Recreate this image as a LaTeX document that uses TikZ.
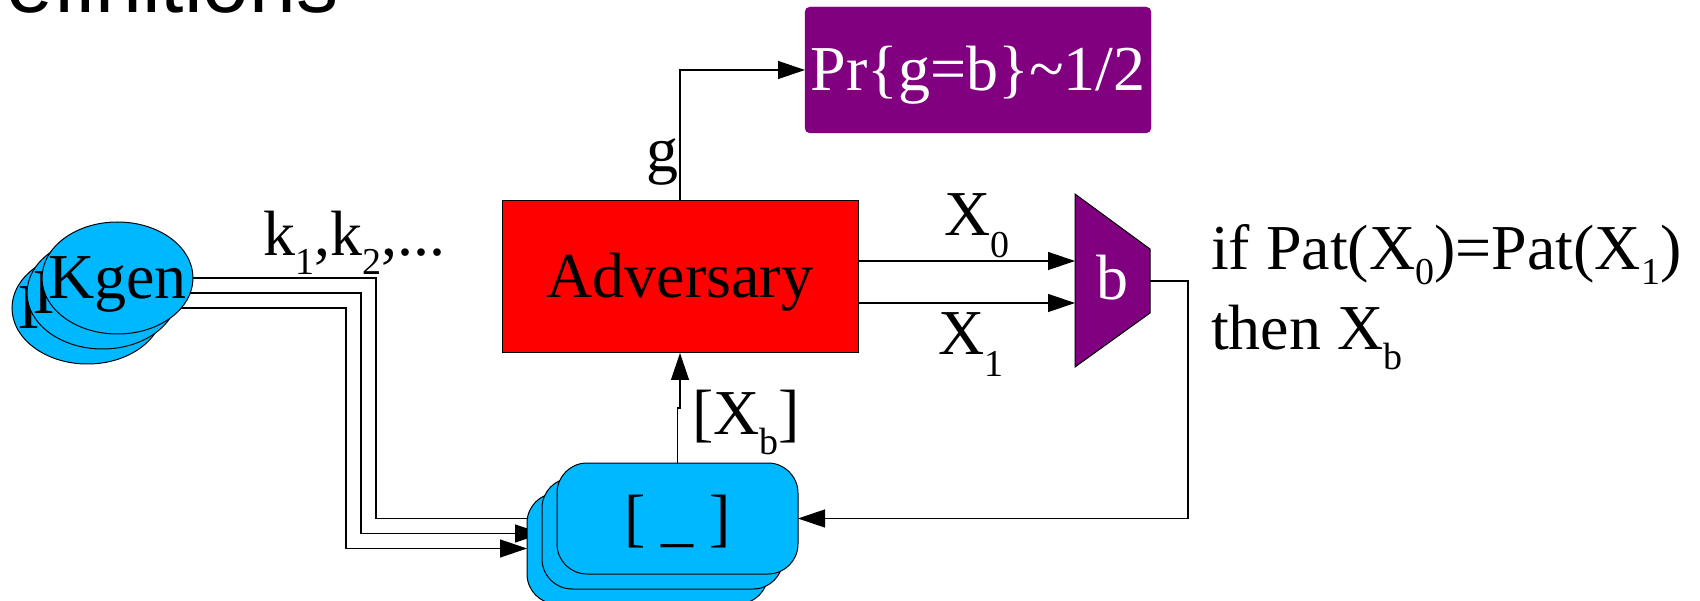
\documentclass[tikz,border=0pt]{standalone}
\usepackage{fontspec}
\usepackage{graphicx}
\setmainfont{Liberation Serif}
\newfontfamily\titlefont{Liberation Sans}
\usetikzlibrary{arrows.meta,calc,shapes.geometric}
\pgfdeclarelayer{bg}
\pgfsetlayers{bg,main}
\definecolor{skyb}{RGB}{0,184,255}
\definecolor{purp}{RGB}{128,0,128}
\newcommand\sbs[2][20]{\raisebox{-#1pt}{\fontsize{38}{38}\selectfont #2}}
\begin{document}
\begin{tikzpicture}[x=1pt,y=-1pt,
  every node/.style={inner sep=0pt, outer sep=0pt},
  bigtext/.style={font=\fontsize{64}{64}\selectfont},
  lbl/.style={bigtext, anchor=base west},
  conn/.style={draw=black, line width=1.3pt},
  arr/.style={conn, -{Triangle[length=27pt,width=18pt]}},
  kell/.style={ellipse, draw=black, line width=1pt, fill=skyb, minimum width=151pt, minimum height=112pt},
  ktext/.style={bigtext, text depth=0pt, text height=42pt},
  store/.style={rectangle, rounded corners=30pt, draw=black, line width=1pt, fill=skyb, minimum width=241pt, minimum height=111pt, bigtext, text depth=0pt, text height=42pt},
]
\useasboundingbox (0,0) rectangle (1700,601);

% title (cut off)
\node[anchor=base west, font=\titlefont\fontsize{84}{84}\selectfont] (title) at (-54,13) {Definitions};

% Kgen stack
\node[kell] (k3) at (87.5,308) {};
\node[ktext] (k3t) at (k3.center) {Kgen};
\node[kell] (k2) at (102.5,293) {};
\node[ktext] (k2t) at (k2.center) {Kgen};
\node[kell] (k1) at (117.5,278) {};
\node[ktext] (k1t) at (k1.center) {Kgen};

% storage stack
\node[store] (q3) at (647.5,548.5) {[ \_ ]};
\node[store] (q2) at (662.5,533.5) {[ \_ ]};
\node[store] (q1) at (677.5,518.5) {[ \_ ]};

% Adversary
\node[rectangle, draw=black, line width=1pt, fill=red, minimum width=356pt, minimum height=152pt, bigtext, text depth=0pt, text height=42pt] (adv) at (680,277) {Adversary};

% result box
\node[rectangle, rounded corners=5pt, draw=purp, fill=purp, text=white, minimum width=346pt, minimum height=126pt, bigtext, text depth=0pt, text height=42pt] (pr) at (978,70) {Pr\{g=b\}\textasciitilde1/2};

% multiplexer
\fill[purp, draw=black, line width=1pt] (1075,194) -- (1150,249) -- (1150,313) -- (1075,367) -- cycle;
\node[bigtext, text=white, text depth=0pt, text height=42pt] (mux) at (1112.5,279) {b};
\coordinate (m0) at (1075,261);
\coordinate (m1) at (1075,303);
\coordinate (mo) at (1150,281);

% connectors
\begin{pgfonlayer}{bg}
\draw[arr] (k1.east) -- ++(183,0) |- (q1.west);
\draw[arr] (k2.east) -- ++(183,0) |- (q2.west);
\draw[arr] (k3.east) -- ++(183,0) |- (q3.west);
\end{pgfonlayer}
\draw[arr] (adv.north) |- (pr.west);
\draw[arr] (adv.east |- m0) -- (m0);
\draw[arr] (adv.east |- m1) -- (m1);
\draw[arr] (mo) -- ++(38,0) |- (q1.east);
\draw[arr] (q1.north) |- ($(q1.north)!0.5!(adv.south)$) -| (adv.south);

% labels
\node[lbl, anchor=base east] (lg) at (678,172) {g};
\node[lbl] (lx0) at (944,236) {X\sbs[22]{0}};
\node[lbl] (lx1) at (938,355) {X\sbs[22]{1}};
\node[lbl] (lk) at (263,256) {k\sbs[19]{1},k\sbs[19]{2},...};
\node[lbl] (lxb) at (692,435) {[X\sbs{b}]};
\node[lbl] (cond1) at (1211,270) {if Pat(X\sbs[15]{0})=Pat(X\sbs[15]{1})};
\node[lbl] (cond2) at (1211,350) {then X\sbs{b}};
\end{tikzpicture}
\end{document}
